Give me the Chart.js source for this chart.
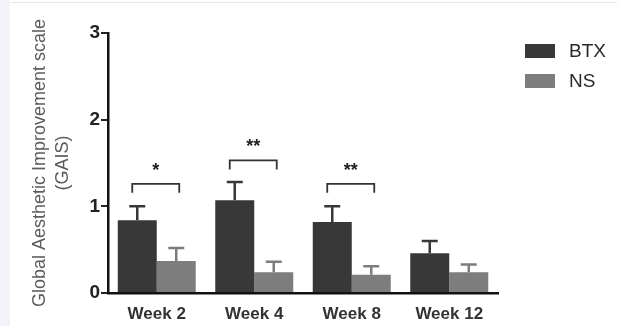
<!DOCTYPE html>
<html>
<head>
<meta charset="utf-8">
<script src="https://cdn.jsdelivr.net/npm/chart.js@4"></script>
<style>
  html, body { margin: 0; padding: 0; background: #fff; }
  #wrap { position: relative; width: 617px; height: 326px; }
</style>
</head>
<body>
<div id="wrap"><canvas id="gaisChart" width="617" height="326"></canvas></div>
<script>
// GAIS scores by visit
const weeks = ['Week 2', 'Week 4', 'Week 8', 'Week 12'];
const btxMean = [0.84, 1.07, 0.82, 0.46];
const btxErr = [0.16, 0.21, 0.18, 0.14];
const nsMean = [0.37, 0.24, 0.21, 0.24];
const nsErr = [0.15, 0.12, 0.10, 0.09];
// significance brackets (y level in GAIS units) and their labels
const sigLevel = [1.26, 1.53, 1.26, null];
const sigLabel = ['*', '**', '**', ''];
const yTicks = [0, 1, 2, 3];

const BTX_COLOR = '#383838';
const NS_COLOR = '#7d7d7d';
const FONT = '"Liberation Sans", Arial, sans-serif';

// page frame: light strip at the left and a hairline at the top
const framePlugin = {
    id: 'frame',
    beforeDraw(chart) {
        const ctx = chart.ctx;
        ctx.save();
        ctx.fillStyle = '#f2f2fa';
        ctx.fillRect(0, 0, 10, chart.height);
        ctx.strokeStyle = '#e4e4ea';
        ctx.lineWidth = 1;
        ctx.beginPath();
        ctx.moveTo(10, 2.5);
        ctx.lineTo(chart.width, 2.5);
        ctx.stroke();
        ctx.restore();
    }
};

// upper error bars + significance brackets
const annotatePlugin = {
    id: 'annotate',
    afterDatasetsDraw(chart) {
        const ctx = chart.ctx;
        const y = chart.scales.y;
        const errs = [btxErr, nsErr];
        ctx.save();
        chart.data.datasets.forEach((ds, di) => {
            const meta = chart.getDatasetMeta(di);
            ctx.strokeStyle = ds.backgroundColor;
            ctx.lineWidth = 2.5;
            meta.data.forEach((bar, i) => {
                const top = y.getPixelForValue(ds.data[i]);
                const tip = y.getPixelForValue(ds.data[i] + errs[di][i]);
                ctx.beginPath();
                ctx.moveTo(bar.x, top);
                ctx.lineTo(bar.x, tip);
                ctx.moveTo(bar.x - 8, tip);
                ctx.lineTo(bar.x + 8, tip);
                ctx.stroke();
            });
        });

        const a = chart.getDatasetMeta(0).data;
        const b = chart.getDatasetMeta(1).data;
        ctx.strokeStyle = '#333';
        ctx.lineWidth = 1.8;
        ctx.fillStyle = '#222';
        ctx.font = 'bold 18px ' + FONT;
        ctx.textAlign = 'center';
        ctx.textBaseline = 'middle';
        sigLevel.forEach((lvl, i) => {
            if (lvl === null) return;
            const py = y.getPixelForValue(lvl);
            const x1 = a[i].x - 5;
            const x2 = b[i].x + 3;
            ctx.beginPath();
            ctx.moveTo(x1, py + 9);
            ctx.lineTo(x1, py);
            ctx.lineTo(x2, py);
            ctx.lineTo(x2, py + 9);
            ctx.stroke();
            ctx.fillText(sigLabel[i], (x1 + x2) / 2, py - 13);
        });
        ctx.restore();
    },
    afterDraw(chart) {
        // legend, top right
        const ctx = chart.ctx;
        ctx.save();
        ctx.font = '19px ' + FONT;
        ctx.textBaseline = 'middle';
        ctx.textAlign = 'left';
        chart.data.datasets.forEach((ds, i) => {
            const cy = 51 + i * 30;
            ctx.fillStyle = ds.backgroundColor;
            ctx.fillRect(525, cy - 7, 30, 14);
            ctx.fillStyle = '#2a2a2a';
            ctx.fillText(ds.label, 569, cy + 1);
        });
        ctx.restore();
    }
};

new Chart(document.getElementById('gaisChart').getContext('2d'), {
    type: 'bar',
    data: {
        labels: weeks,
        datasets: [
            { label: 'BTX', data: btxMean, backgroundColor: BTX_COLOR },
            { label: 'NS', data: nsMean, backgroundColor: NS_COLOR }
        ]
    },
    options: {
        responsive: false,
        animation: false,
        events: [],
        layout: { padding: { top: 33, right: 119, left: 0, bottom: 0 } },
        datasets: {
            bar: { categoryPercentage: 0.8, barPercentage: 1.0 }
        },
        plugins: {
            legend: { display: false },
            tooltip: { enabled: false }
        },
        scales: {
            x: {
                grid: { display: false, tickLength: 8 },
                border: { display: true, color: '#111', width: 2.5 },
                ticks: {
                    color: '#333',
                    padding: 3,
                    font: { family: FONT, size: 17, weight: 'bold' }
                },
                afterFit(scale) { scale.height = 33; }
            },
            y: {
                min: 0,
                max: 3,
                afterBuildTicks(scale) {
                    scale.ticks = yTicks.map(v => ({ value: v }));
                },
                grid: {
                    drawOnChartArea: false,
                    drawTicks: true,
                    tickLength: 7,
                    color: '#222',
                    lineWidth: 2
                },
                border: { display: true, color: '#111', width: 2.5 },
                ticks: {
                    color: '#222',
                    padding: 1,
                    font: { family: FONT, size: 19, weight: 'bold' }
                },
                title: {
                    display: true,
                    text: ['Global Aesthetic Improvement scale', '(GAIS)'],
                    color: '#5c5c5c',
                    padding: { top: 29, bottom: 0 },
                    font: { family: FONT, size: 18, lineHeight: 1.25 }
                },
                afterFit(scale) { scale.width = 108; }
            }
        }
    },
    plugins: [framePlugin, annotatePlugin]
});
</script>
</body>
</html>
